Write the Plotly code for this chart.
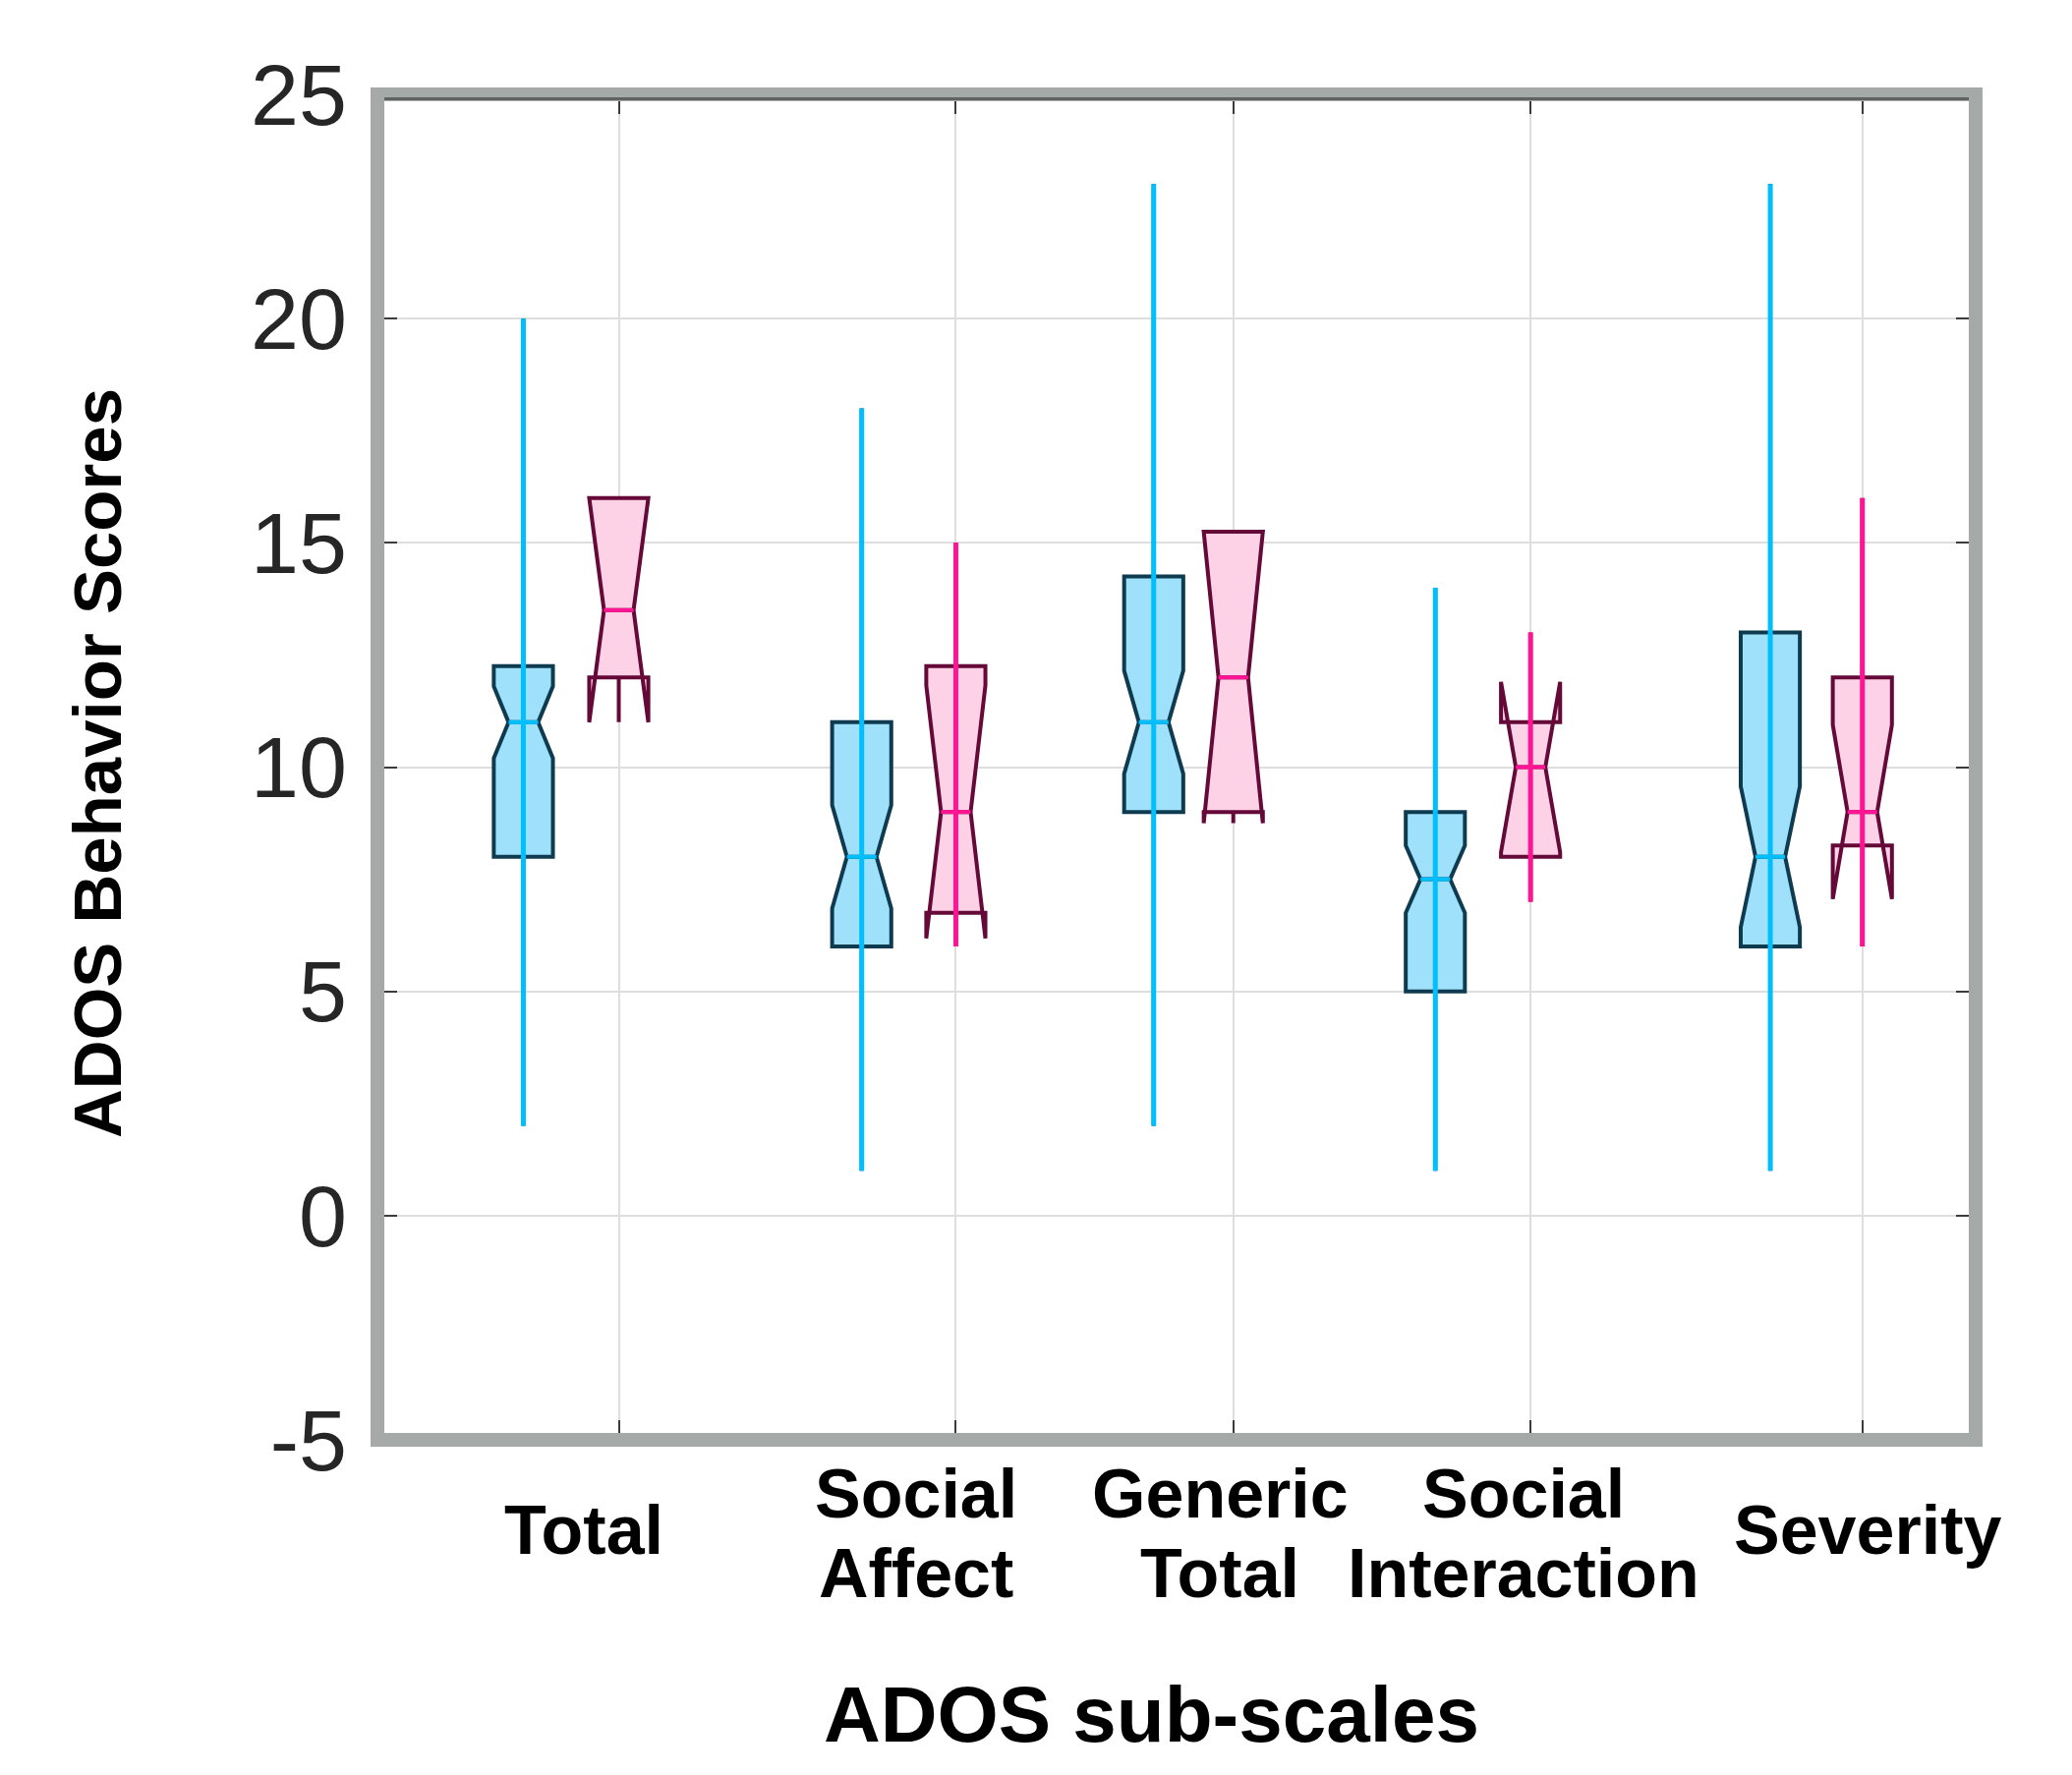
import plotly.graph_objects as go

# ADOS sub-scale summary statistics for the two groups
categories = ["Total", "Social Affect", "Generic Total", "Social Interaction", "Severity"]

blue_min = [2, 1, 2, 1, 1]
blue_q1 = [8, 6, 9, 5, 6]
blue_median = [11, 8, 11, 7.5, 8]
blue_q3 = [12.25, 11, 14.25, 9, 13]
blue_max = [20, 18, 23, 14, 23]
blue_notch = [0.8, 1.15, 1.15, 0.75, 1.57]

pink_min = [12, 6, 9, 7, 6]
pink_q1 = [12, 6.75, 9, 8, 8.25]
pink_median = [13.5, 9, 12, 10, 9]
pink_q3 = [16, 12.25, 15.25, 11, 12]
pink_max = [16, 15, 15.25, 13, 16]
pink_notch = [2.5, 2.82, 3.25, 1.9, 1.94]

y_tick_values = [-5, 0, 5, 10, 15, 20, 25]
y_tick_labels = ["-5", "0", "5", "10", "15", "20", "25"]

# ---- layout geometry ----
W, H = 2108, 1806
M_L, M_R, M_T, M_B = 384, 98, 96, 341
PLOT_W = W - M_L - M_R
PLOT_H = H - M_T - M_B

blue_x = [9.13, 30.30, 48.57, 66.19, 87.15]
pink_x = [15.10, 36.19, 53.55, 72.15, 92.91]
label_x = [12.92, 33.70, 52.71, 71.71, 93.23]
BOX_W = 3.7
NOTCH_W = 0.25   # each side is cut in by a quarter of the box width

FONT = "Liberation Sans, Arial, Helvetica, sans-serif"

BLUE_FILL = "#9fe1fb"
BLUE_EDGE = "#0f3b50"
BLUE_LINE = "#00bfff"
PINK_FILL = "#fdd2e7"
PINK_EDGE = "#650a38"
PINK_LINE = "#ff1493"
FRAME = "#a5a9a7"
GRID = "#dedede"


def paper_y(px):
    return (H - M_B - px) / PLOT_H


def box_trace(x, q1, med, q3, lo, hi, notch, fill, edge):
    return go.Box(
        x=x, q1=q1, median=med, q3=q3, lowerfence=lo, upperfence=hi,
        notchspan=notch, notched=True, notchwidth=NOTCH_W, width=BOX_W,
        whiskerwidth=0, fillcolor=fill, line=dict(color=edge, width=4),
        boxpoints=False, orientation="v", showlegend=False, hoverinfo="skip",
    )


def whisker_trace(x, q1, q3, lo, hi, color):
    xs, ys = [], []
    for p, a, b, l, h in zip(x, q1, q3, lo, hi):
        if l < a or h > b:
            xs += [p, p, None]
            ys += [l, h, None]
    return go.Scatter(x=xs, y=ys, mode="lines", line=dict(color=color, width=5),
                      showlegend=False, hoverinfo="skip")


def median_trace(x, med, color):
    half = BOX_W * (1 - 2 * NOTCH_W) / 2
    xs, ys = [], []
    for p, m in zip(x, med):
        xs += [p - half, p + half, None]
        ys += [m, m, None]
    return go.Scatter(x=xs, y=ys, mode="lines", line=dict(color=color, width=4),
                      showlegend=False, hoverinfo="skip")


fig = go.Figure()
fig.add_trace(box_trace(blue_x, blue_q1, blue_median, blue_q3, blue_min, blue_max,
                        blue_notch, BLUE_FILL, BLUE_EDGE))
fig.add_trace(box_trace(pink_x, pink_q1, pink_median, pink_q3, pink_min, pink_max,
                        pink_notch, PINK_FILL, PINK_EDGE))
fig.add_trace(whisker_trace(blue_x, blue_q1, blue_q3, blue_min, blue_max, BLUE_LINE))
fig.add_trace(whisker_trace(pink_x, pink_q1, pink_q3, pink_min, pink_max, PINK_LINE))
fig.add_trace(median_trace(blue_x, blue_median, BLUE_LINE))
fig.add_trace(median_trace(pink_x, pink_median, PINK_LINE))

# category labels below the axis, one annotation per text line
annotations = []
for cx, name in zip(label_x, categories):
    words = name.split(" ")
    if len(words) == 1:
        lines = [(words[0], 1557)]
    else:
        lines = [(words[0], 1520), (" ".join(words[1:]), 1601)]
    for txt, py in lines:
        annotations.append(dict(
            x=cx, xref="x", y=paper_y(py), yref="paper", text=txt,
            showarrow=False, xanchor="center", yanchor="middle",
            font=dict(family=FONT, size=70, color="#000000", weight="bold"),
        ))

annotations.append(dict(
    x=(1171 - M_L) / PLOT_W, xref="paper", y=paper_y(1744), yref="paper",
    text="ADOS sub-scales", showarrow=False, xanchor="center", yanchor="middle",
    font=dict(family=FONT, size=80, color="#000000", weight="bold"),
))
annotations.append(dict(
    x=(99 - M_L) / PLOT_W, xref="paper", y=paper_y(777), yref="paper",
    text="ADOS Behavior Scores", showarrow=False, textangle=-90,
    xanchor="center", yanchor="middle",
    font=dict(family=FONT, size=69, color="#000000", weight="bold"),
))

shapes = [
    dict(type="rect", xref="paper", yref="paper", x0=0, x1=1, y0=0, y1=1,
         line=dict(color=FRAME, width=14), fillcolor="rgba(0,0,0,0)", layer="above"),
    dict(type="line", xref="paper", yref="paper",
         x0=7 / PLOT_W, x1=1 - 7 / PLOT_W, y0=paper_y(100.5), y1=paper_y(100.5),
         line=dict(color="#5f6361", width=3), layer="above"),
]

fig.update_layout(
    width=W, height=H,
    margin=dict(l=M_L, r=M_R, t=M_T, b=M_B, pad=0),
    paper_bgcolor="white", plot_bgcolor="white",
    font=dict(family=FONT),
    showlegend=False,
    annotations=annotations,
    shapes=shapes,
    xaxis=dict(
        range=[0, 100], tickmode="array", tickvals=pink_x, showticklabels=False,
        showgrid=True, gridcolor=GRID, gridwidth=2, zeroline=False,
        ticks="inside", ticklen=20, tickwidth=2, tickcolor="#3c3c3c",
        showline=False, mirror="ticks",
    ),
    yaxis=dict(
        range=[-5, 25], tickmode="array", tickvals=y_tick_values, ticktext=y_tick_labels,
        showgrid=True, gridcolor=GRID, gridwidth=2, zeroline=False,
        ticks="inside", ticklen=20, tickwidth=2, tickcolor="#3c3c3c",
        showline=False, mirror="ticks", ticklabelstandoff=30,
        tickfont=dict(family=FONT, size=88, color="#262626"),
    ),
)

fig.write_html("out.html")
